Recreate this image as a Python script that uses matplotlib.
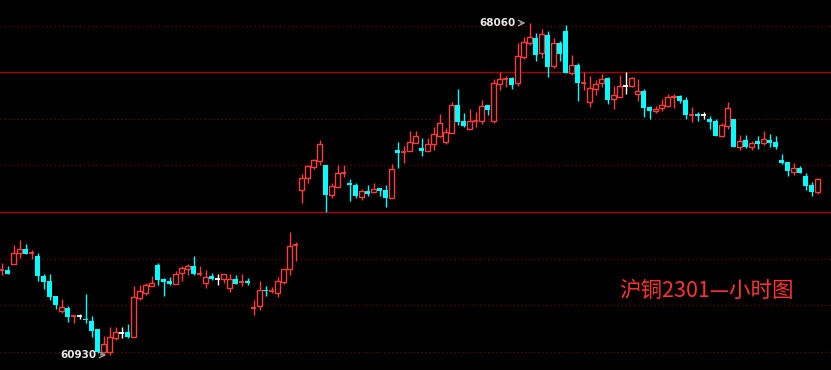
import numpy as np
import matplotlib.pyplot as plt

plt.rcParams['font.family'] = ['Noto Sans CJK SC', 'DejaVu Sans']

# hourly OHLC
opens = [62760, 62750, 62880, 63130, 63210, 63110, 63060, 62630, 62520, 62200,
         61880, 61940, 61760, 61760, 61710, 61660, 61490, 61000, 60990, 61300,
         61410, 61420, 61320, 62160, 62270, 62420, 62860, 62560, 62520, 62460,
         62700, 62780, 62840, 62670, 62480, 62630, 62560, 62570, 62370, 62560,
         62490, 62520, 61940, 61990, 62330, 62300, 62270, 62500, 62770, 63290,
         64480, 64740, 64970, 65100, 65010, 64370, 64540, 64830, 64620, 64570,
         64330, 64450, 64420, 64520, 64470, 64310, 65330, 65290, 65300, 65490,
         65380, 65310, 65450, 65630, 65510, 65700, 66300, 65950, 65780, 65950,
         65960, 66300, 65950, 66750, 66850, 66880, 66780, 67340, 67640, 67740,
         67410, 67800, 67140, 67630, 67890, 66990, 67150, 66770, 66370, 66650,
         66780, 66880, 66430, 66480, 66700, 66710, 66540, 66600, 66250, 66180,
         66240, 66280, 66460, 66490, 66410, 66090, 66110, 66080, 66000, 65950,
         65640, 65850, 66000, 65390, 65550, 65400, 65530, 65490, 65550, 65500,
         65120, 65070, 64850, 64950, 64770, 64580, 64430]
highs = [62900, 62840, 63290, 63400, 63310, 63180, 63130, 62670, 62670, 62200,
         62130, 61980, 61770, 61810, 62240, 61770, 61490, 61340, 61540, 61540,
         61540, 61600, 62410, 62430, 62480, 62630, 62910, 62580, 62600, 62730,
         62840, 62880, 63050, 62830, 62750, 62680, 62670, 62660, 62670, 62650,
         62670, 62580, 62110, 62520, 62410, 62390, 62600, 62780, 63570, 63360,
         64820, 65010, 65130, 65550, 65010, 64620, 65010, 65010, 64710, 64620,
         64490, 64580, 64620, 64520, 64580, 65030, 65500, 65420, 65730, 65730,
         65590, 65590, 65830, 66110, 65800, 66370, 66640, 66120, 66210, 66150,
         66400, 66300, 66850, 67000, 66920, 66900, 67630, 67750, 68060, 67850,
         67930, 67890, 67740, 67670, 68020, 67370, 67190, 67010, 66920, 66840,
         66960, 66910, 66710, 66940, 67010, 66910, 66860, 66640, 66280, 66280,
         66430, 66540, 66540, 66510, 66480, 66260, 66150, 66150, 66060, 66000,
         65910, 66360, 66000, 65650, 65650, 65520, 65630, 65740, 65680, 65630,
         65250, 65070, 65050, 64990, 64830, 64650, 64730]
lows = [62650, 62660, 62880, 63020, 63100, 62980, 62520, 62350, 62120, 61920,
        61820, 61640, 61620, 61700, 61620, 61320, 60980, 60980, 60930, 61240,
        61290, 61290, 61320, 62110, 62210, 62420, 62430, 62200, 62430, 62460,
        62520, 62650, 62650, 62630, 62370, 62540, 62430, 62480, 62280, 62450,
        62410, 62430, 61790, 61900, 62200, 62270, 62170, 62450, 62650, 62950,
        64200, 64630, 64930, 65020, 64010, 64310, 64540, 64760, 64240, 64310,
        64260, 64350, 64420, 64340, 64110, 64310, 64950, 65060, 65300, 65490,
        65200, 65300, 65330, 65610, 65460, 65700, 65860, 65820, 65780, 65820,
        65890, 66080, 65910, 66610, 66690, 66640, 66710, 67290, 67590, 67250,
        67300, 66890, 67100, 67250, 66990, 66940, 66390, 66620, 66260, 66510,
        66690, 66320, 66220, 66480, 66540, 66680, 66390, 66030, 66000, 66130,
        66180, 66260, 66230, 66350, 66000, 65930, 65960, 66000, 65780, 65640,
        65610, 65780, 65400, 65330, 65380, 65330, 65350, 65440, 65400, 65350,
        65030, 64770, 64800, 64840, 64470, 64340, 64390]
closes = [62770, 62670, 63130, 63210, 63100, 63120, 62630, 62500, 62180, 62000,
          61950, 61750, 61770, 61760, 61670, 61450, 61000, 61170, 61310, 61420,
          61410, 61320, 62170, 62300, 62430, 62470, 62540, 62500, 62450, 62670,
          62790, 62830, 62670, 62680, 62600, 62560, 62560, 62660, 62560, 62460,
          62500, 62480, 61950, 62330, 62300, 62310, 62520, 62780, 63270, 63300,
          64720, 64990, 65110, 65460, 64370, 64560, 64830, 64840, 64570, 64350,
          64450, 64390, 64490, 64450, 64310, 64920, 65270, 65300, 65500, 65630,
          65320, 65460, 65680, 65910, 65720, 66300, 65930, 65850, 65950, 65960,
          66280, 66190, 66770, 66860, 66860, 66730, 67350, 67650, 67750, 67380,
          67820, 67120, 67630, 67400, 66990, 67150, 66780, 66780, 66660, 66760,
          66850, 66410, 66510, 66700, 66700, 66870, 66600, 66230, 66170, 66210,
          66300, 66470, 66500, 66380, 66080, 66100, 66070, 66080, 65940, 65640,
          65870, 66230, 65400, 65530, 65400, 65480, 65460, 65570, 65480, 65400,
          65050, 64880, 64950, 64840, 64560, 64430, 64710]

key_levels = [64000, 67000]
grid_levels = [61000, 62000, 63000, 65000, 66000, 68000]

RED = '#ff3b3b'
CYAN = '#00ffff'

o = np.array(opens)
h = np.array(highs)
l = np.array(lows)
c = np.array(closes)
x = np.arange(len(o))

cols = np.where(c > o, RED, np.where(c < o, CYAN, 'white'))

fig = plt.figure(figsize=(8.31, 3.70), dpi=100, facecolor='black')
ax = fig.add_axes([0, 0, 1, 1])
ax.set_facecolor('black')

for lv in grid_levels:
    ax.axhline(lv, color='#5c0808', lw=1, linestyle=(0, (1, 2)), zorder=0)
for lv in key_levels:
    ax.axhline(lv, color='#a80000', lw=1, zorder=0)

# wicks
ax.vlines(x, l, h, colors=cols, lw=1, zorder=2)

bw = 0.8
flat = np.abs(c - o) <= 10
up = (c > o) & ~flat
dn = (c < o) & ~flat
ax.bar(x[up], (c - o)[up], bottom=o[up], width=bw, facecolor='black',
       edgecolor=RED, lw=1, zorder=3)
ax.bar(x[dn], (o - c)[dn], bottom=c[dn], width=bw, color=CYAN, lw=0, zorder=3)
ax.hlines(o[flat], x[flat] - bw / 2, x[flat] + bw / 2, colors=cols[flat], lw=1.3, zorder=3)

# high / low marks
ih = int(np.argmax(h))
il = int(np.argmin(l))
ax.annotate('', xy=(ih - 0.2, h[ih]), xytext=(ih - 2.0, h[ih]),
            arrowprops=dict(arrowstyle='->', color='#a0a0a0', lw=1))
ax.text(ih - 2.3, h[ih], str(h[ih]), color='#e8e8e8', fontsize=7.5,
        fontweight='bold', family='DejaVu Sans', ha='right', va='center')
ax.annotate('', xy=(il - 0.05, l[il]), xytext=(il - 1.95, l[il]),
            arrowprops=dict(arrowstyle='->', color='#a0a0a0', lw=1))
ax.text(il - 2.2, l[il], str(l[il]), color='#e8e8e8', fontsize=7.5,
        fontweight='bold', family='DejaVu Sans', ha='right', va='center')

ax.text(0.8496, 0.2135, '沪铜2301—小时图', color='#ff3333', fontsize=15.5,
        ha='center', va='center', transform=ax.transAxes)

ax.set_xlim(-0.25, 138.25)
ax.set_ylim(60606, 68554)
ax.axis('off')

fig.savefig('out.png', dpi=100, facecolor='black')
